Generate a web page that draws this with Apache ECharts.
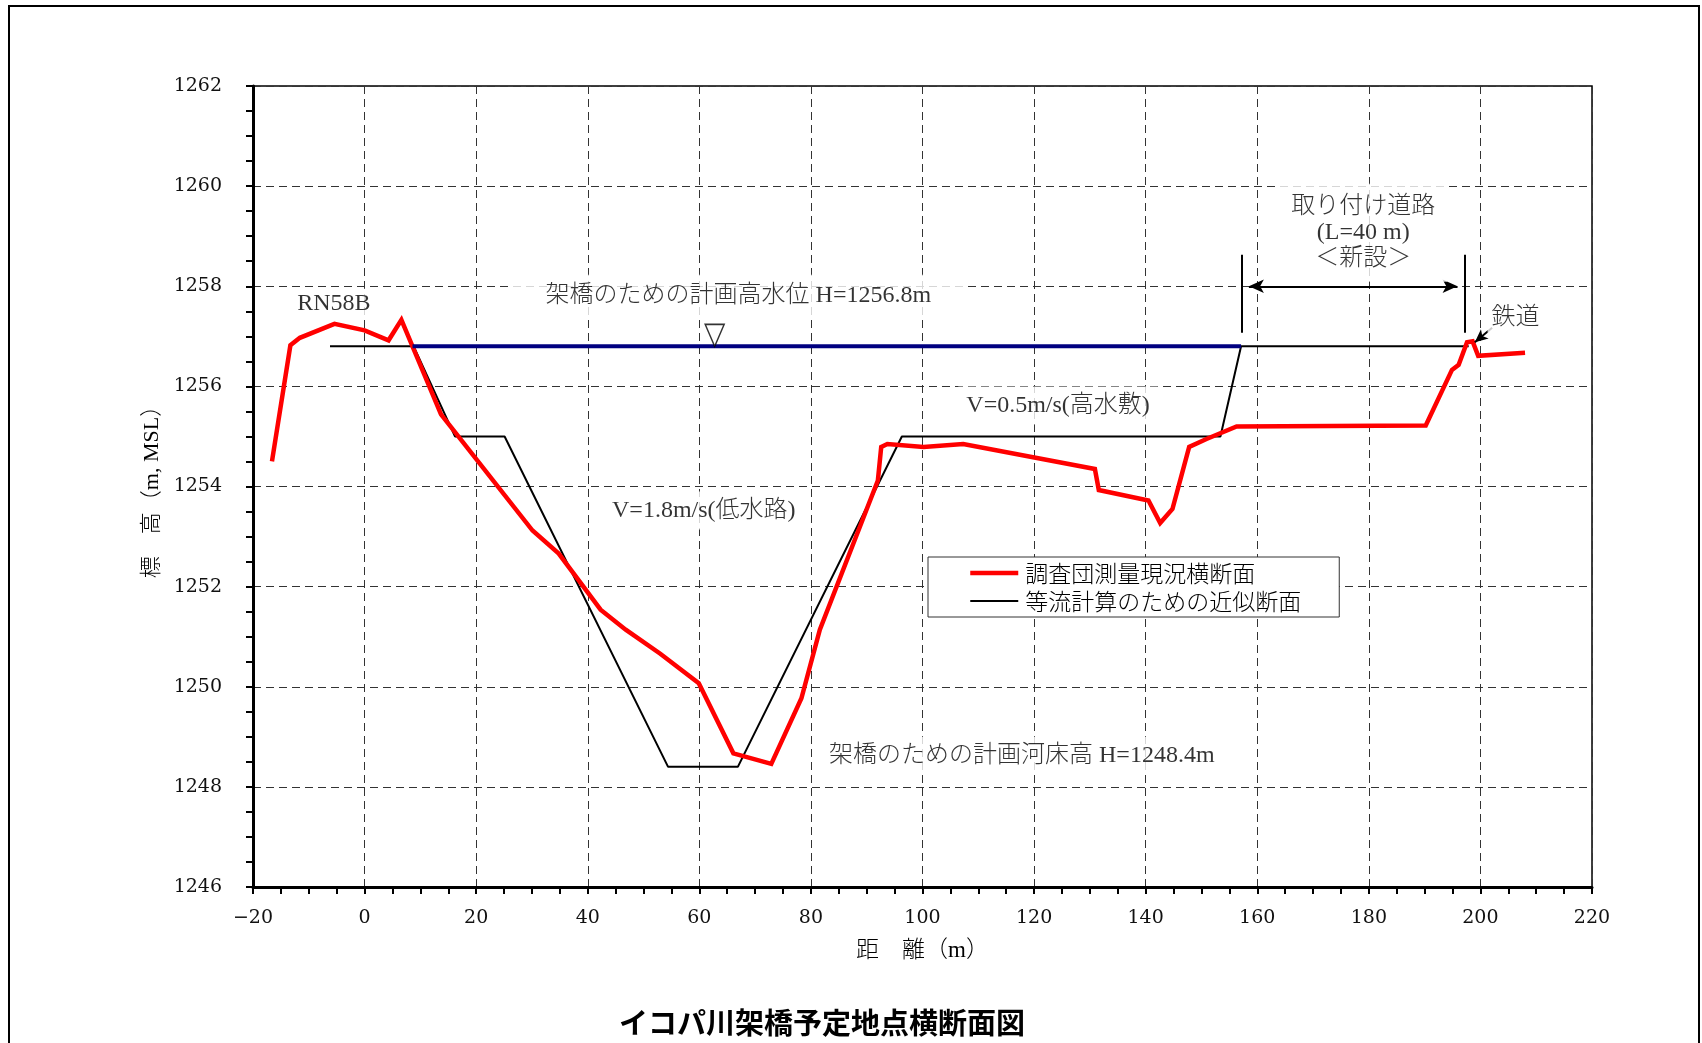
<!DOCTYPE html>
<html>
<head>
<meta charset="utf-8">
<title>イコパ川架橋予定地点横断面図</title>
<script src="https://cdn.jsdelivr.net/npm/echarts@6/dist/echarts.min.js"></script>
<style>
  html, body { margin: 0; padding: 0; background: #fff; }
  #chart { width: 1702px; height: 1043px; }
</style>
</head>
<body>
<div id="chart"></div>
<script>
// ---- axis ranges (m) ----
const xMin = -20, xMax = 220, xStep = 20;
const yMin = 1246, yMax = 1262, yStep = 2;

// ---- design levels (m, MSL) ----
const waterLevel = 1256.8;   // 架橋のための計画高水位
const bedLevel = 1248.4;     // 架橋のための計画河床高
const terraceLevel = 1255.0; // 高水敷

// ---- surveyed cross-section (調査団測量現況横断面) ----
const surveyX = [-16.6, -13.3, -11.6, -5.4, 0.0, 4.3, 6.6, 13.7, 30.1, 34.8,
  42.3, 46.8, 53.0, 59.9, 66.1, 72.9, 78.3, 81.6, 92.0, 92.6,
  93.7, 100.2, 107.3, 130.9, 131.6, 140.5, 142.6, 144.8, 147.8, 150.9,
  156.3, 190.2, 194.9, 196.1, 197.6, 198.6, 199.6, 208.0];
const surveyY = [1254.50, 1256.82, 1256.97, 1257.25, 1257.12, 1256.92, 1257.33, 1255.44, 1253.12, 1252.66,
  1251.54, 1251.14, 1250.66, 1250.07, 1248.67, 1248.46, 1249.77, 1251.14, 1254.12, 1254.79,
  1254.85, 1254.79, 1254.85, 1254.35, 1253.93, 1253.72, 1253.27, 1253.55, 1254.79, 1254.95,
  1255.20, 1255.22, 1256.33, 1256.43, 1256.88, 1256.90, 1256.61, 1256.67];

// ---- simplified section for uniform-flow calculation (等流計算のための近似断面) ----
const approxX = [-6.2, 8.8, 16.2, 25.1, 54.4, 66.9, 96.3, 153.4, 157.1, 197.9];
const approxY = [waterLevel, waterLevel, terraceLevel, terraceLevel, bedLevel, bedLevel,
  terraceLevel, terraceLevel, waterLevel, waterLevel];

// ---- planned high water surface extent ----
const waterX = [8.6, 157.1];

// ---- approach road (取り付け道路) ----
const roadStart = 157.2;
const roadLength = 40;

const seriesNames = ['調査団測量現況横断面', '等流計算のための近似断面'];

const pairs = (xs, ys) => xs.map((x, i) => [x, ys[i]]);

const serifCJK = "'Liberation Serif', 'Noto Sans CJK JP', sans-serif";
const tickFont = "'DejaVu Serif', serif";
const plainNumber = v => String(v).replace('-', '\u2212');

const surveyWidth = 4.5, approxWidth = 2;

// text notes placed in data coordinates
const notes = [
  { at: [-5.5, 1257.65], text: 'RN58B', pad: [2, 4] },
  { at: [67.0, 1257.81], text: '架橋のための計画高水位 H=' + waterLevel.toFixed(1) + 'm', pad: [8, 36] },
  { at: [124.3, 1255.62], text: 'V=0.5m/s(高水敷)', pad: [6, 8] },
  { at: [60.8, 1253.52], text: 'V=1.8m/s(低水路)', pad: [6, 8] },
  { at: [117.8, 1248.62], text: '架橋のための計画河床高 H=' + bedLevel.toFixed(1) + 'm', pad: [6, 8] },
  { at: [179.0, 1259.07], text: '取り付け道路\n(L=' + roadLength + ' m)\n＜新設＞', pad: [10, 12] },
  { at: [206.3, 1257.37], text: '鉄道', pad: [2, 4] }
];

const roadEnd = roadStart + roadLength;
const barLow = 1257.07, barHigh = 1258.63, arrowY = 1258.0, arrowInset = 1.3;
const arrowHead = { symbol: 'arrow', symbolSize: [10, 15] };
const noHead = { symbol: 'none' };

const chart = echarts.init(document.getElementById('chart'), null, { renderer: 'canvas' });

chart.setOption({
  animation: false,
  backgroundColor: '#fff',
  title: {
    text: 'イコパ川架橋予定地点横断面図',
    left: 619,
    top: 1008,
    padding: 0,
    textStyle: { fontFamily: "'Noto Sans CJK JP', sans-serif", fontSize: 29, fontWeight: 'bold', color: '#000' }
  },
  graphic: [{
    type: 'rect',
    silent: true,
    shape: { x: 9, y: 6, width: 1690, height: 1100 },
    style: { fill: 'none', stroke: '#000', lineWidth: 2 }
  }],
  grid: {
    left: 253, top: 86, right: 110, bottom: 156,
    show: true, borderColor: '#000', borderWidth: 1.5, backgroundColor: 'transparent'
  },
  legend: {
    data: [
      { name: seriesNames[0], lineStyle: { color: '#ff0000', width: surveyWidth } },
      { name: seriesNames[1], lineStyle: { color: '#000', width: approxWidth } }
    ],
    orient: 'vertical',
    left: 928, top: 557,
    padding: [4, 38, 4, 40],
    itemWidth: 48, itemHeight: 14, itemGap: 4,
    backgroundColor: '#fff',
    borderColor: '#333', borderWidth: 1, borderRadius: 0,
    selectedMode: false,
    itemStyle: { opacity: 0 },
    textStyle: { fontFamily: "'Noto Sans CJK JP', sans-serif", fontSize: 23, fontWeight: 300, lineHeight: 24, color: '#000', padding: [0, 0, 0, 2] }
  },
  xAxis: {
    type: 'value', min: xMin, max: xMax, interval: xStep,
    name: '距　離（m）', nameLocation: 'middle', nameGap: 52,
    nameTextStyle: { fontFamily: serifCJK, fontSize: 23, fontWeight: 300, color: '#000' },
    axisLine: { show: true, onZero: false, lineStyle: { color: '#000', width: 3 } },
    axisTick: { show: true, inside: false, length: 7, lineStyle: { color: '#000', width: 2 } },
    minorTick: { show: true, splitNumber: 4, length: 7, lineStyle: { color: '#000', width: 2 } },
    axisLabel: { margin: 22, fontFamily: tickFont, fontSize: 19, color: '#111', formatter: plainNumber },
    splitLine: { show: true, lineStyle: { color: '#333', width: 1, type: [8, 5] } }
  },
  yAxis: {
    type: 'value', min: yMin, max: yMax, interval: yStep,
    name: '標　高（m, MSL）', nameLocation: 'middle', nameGap: 84,
    nameTextStyle: { fontFamily: serifCJK, fontSize: 22, fontWeight: 300, color: '#000' },
    axisLine: { show: true, onZero: false, lineStyle: { color: '#000', width: 3 } },
    axisTick: { show: true, inside: false, length: 7, lineStyle: { color: '#000', width: 2 } },
    minorTick: { show: true, splitNumber: 4, length: 7, lineStyle: { color: '#000', width: 2 } },
    axisLabel: { margin: 31, fontFamily: tickFont, fontSize: 19, color: '#111', formatter: plainNumber },
    splitLine: { show: true, lineStyle: { color: '#333', width: 1, type: [8, 5] } }
  },
  series: [
    {
      name: seriesNames[1],
      type: 'line',
      data: pairs(approxX, approxY),
      symbol: 'none',
      lineStyle: { color: '#000', width: approxWidth },
      itemStyle: { color: '#000' },
      emphasis: { disabled: true },
      z: 3
    },
    {
      name: seriesNames[0],
      type: 'line',
      data: pairs(surveyX, surveyY),
      symbol: 'none',
      lineStyle: { color: '#ff0000', width: surveyWidth, join: 'miter' },
      itemStyle: { color: '#ff0000' },
      emphasis: { disabled: true },
      z: 4
    },
    {
      name: '計画高水位',
      type: 'line',
      data: waterX.map(x => [x, waterLevel]),
      symbol: 'none',
      lineStyle: { color: '#000080', width: 4 },
      emphasis: { disabled: true },
      z: 5,
      markLine: {
        silent: true,
        animation: false,
        label: { show: false },
        emphasis: { disabled: true },
        lineStyle: { color: '#000', width: 2, type: 'solid' },
        symbol: ['none', 'none'],
        data: [
          [Object.assign({ coord: [roadStart, barLow] }, noHead), Object.assign({ coord: [roadStart, barHigh] }, noHead)],
          [Object.assign({ coord: [roadEnd, barLow] }, noHead), Object.assign({ coord: [roadEnd, barHigh] }, noHead)],
          [Object.assign({ coord: [roadStart + arrowInset, arrowY] }, arrowHead), Object.assign({ coord: [roadEnd - arrowInset, arrowY] }, arrowHead)],
          [Object.assign({ coord: [202.1, 1257.17] }, noHead), Object.assign({ coord: [199.0, 1256.88] }, { symbol: 'arrow', symbolSize: [9, 13] })]
        ]
      }
    },
    {
      // ▽ marker sitting on the planned high water surface
      name: '水位記号',
      type: 'scatter',
      data: [[62.75, waterLevel]],
      symbol: 'triangle',
      symbolRotate: 180,
      symbolSize: [19, 22],
      symbolOffset: [0, -11],
      itemStyle: { color: '#fff', borderColor: '#000', borderWidth: 1.5 },
      emphasis: { disabled: true },
      silent: true,
      z: 6
    },
    {
      name: '注記',
      type: 'scatter',
      symbol: 'circle',
      symbolSize: 1,
      itemStyle: { color: 'rgba(0,0,0,0)' },
      emphasis: { disabled: true },
      silent: true,
      z: 7,
      data: notes.map(n => ({
        value: n.at,
        label: {
          show: true,
          position: 'inside',
          formatter: n.text,
          fontFamily: serifCJK,
          fontSize: 24,
          fontWeight: 300,
          lineHeight: 26,
          color: '#000',
          align: 'center',
          backgroundColor: '#fff',
          padding: n.pad
        }
      }))
    }
  ]
});
</script>
</body>
</html>
